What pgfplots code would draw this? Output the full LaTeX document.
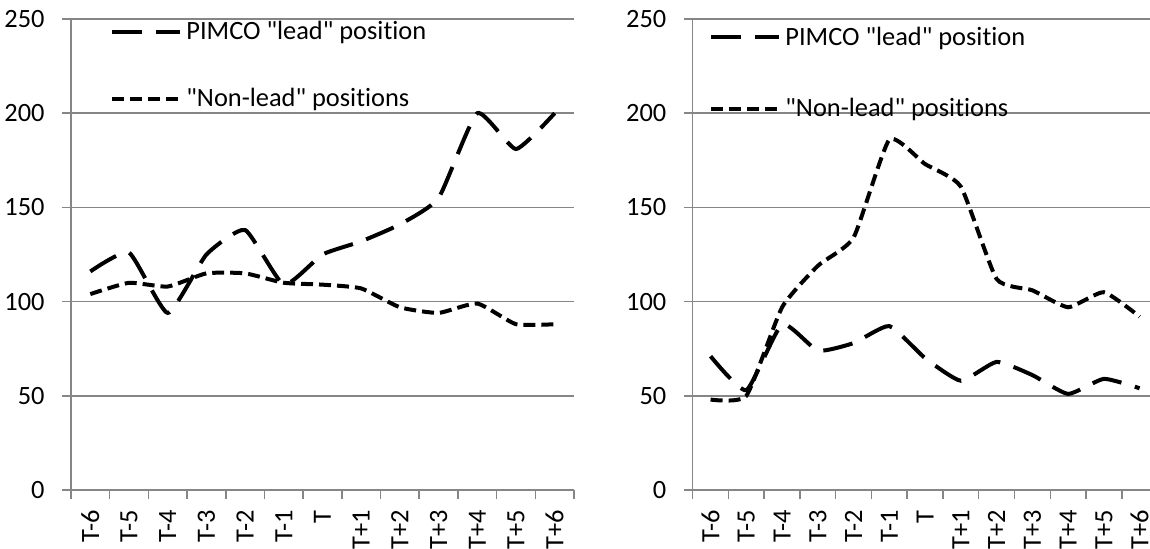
\documentclass[border=0pt]{standalone}
\usepackage{pgfplots}
\pgfplotsset{compat=1.18}
\usepackage{fontspec}
\setmainfont{Carlito}[Ligatures={TeXOff,NoCommon}]
\definecolor{axgray}{RGB}{134,134,134}
\pgfplotsset{
  panel/.style={
    scale only axis, height=235.5pt,
    ymin=0, ymax=250, ytick={0,50,100,150,200,250},
    xmin=-0.5, xmax=12.5,
    xtick={-0.5,0.5,1.5,2.5,3.5,4.5,5.5,6.5,7.5,8.5,9.5,10.5,11.5,12.5},
    xticklabels={T-6,T-5,T-4,T-3,T-2,T-1,T,T+1,T+2,T+3,T+4,T+5,T+6,{}},
    axis x line=bottom, axis y line=left,
    axis line style={-, draw=axgray, line width=0.75pt},
    ymajorgrids, grid style={draw=axgray, line width=0.75pt},
    tick align=outside, major tick length=4.5pt,
    tick style={draw=axgray, line width=0.75pt},
    every tick label/.append style={font=\fontsize{13.2}{15}\selectfont},
    /pgf/number format/assume math mode=true,
    yticklabel style={inner sep=0pt, xshift=-8.5pt},
    legend style={draw=none, fill=none, font=\fontsize{13.2}{15}\selectfont,
      anchor=north west, inner sep=0pt, row sep=19pt},
    legend cell align=left,
    legend image code/.code={\draw[##1] (0pt,0pt) -- (34pt,0pt);},
  },
  lead/.style={black, line width=2pt, dash pattern=on 15pt off 7pt, smooth, tension=0.3},
  nonlead/.style={black, line width=2pt, dash pattern=on 6pt off 3pt, smooth, tension=0.3},
}
\pgfplotstableread{
x lead nonlead
0 116 104
1 126 110
2 94 108
3 125 115
4 138 115
5 109 110
6 125 109
7 132 107
8 141 97
9 155 94
10 200 99
11 181 88
12 200 88
}\leftdata
\pgfplotstableread{
x lead nonlead
0 71 48
1 53 50
2 88 97
3 74 119
4 78 134
5 87 186
6 70 173
7 58 161
8 68 112
9 61 106
10 51 97
11 59 105
12 54 92
}\rightdata
\begin{document}
\begin{tikzpicture}
\useasboundingbox (-35.5pt,-29pt) rectangle (539.5pt,245pt);
\begin{axis}[panel, width=251.5pt, at={(0pt,0pt)}, anchor=south west,
  xticklabel style={xshift=9.675pt, yshift=-5.5pt, rotate=90, anchor=east, inner sep=0pt},
  legend style={at={(axis description cs:0.0775,1.005)}}]
\addplot[lead] table[x=x,y=lead]{\leftdata};
\addlegendentry{PIMCO "lead" position}
\addplot[nonlead] table[x=x,y=nonlead]{\leftdata};
\addlegendentry{"Non-lead" positions}
\end{axis}
\begin{axis}[panel, width=232.4pt, at={(310.85pt,0pt)}, anchor=south west,
  xticklabel style={xshift=8.94pt, yshift=-5.5pt, rotate=90, anchor=east, inner sep=0pt},
  legend style={at={(axis description cs:0.035,0.993)}, row sep=21pt}]
\addplot[lead] table[x=x,y=lead]{\rightdata};
\addlegendentry{PIMCO "lead" position}
\addplot[nonlead] table[x=x,y=nonlead]{\rightdata};
\addlegendentry{"Non-lead" positions}
\end{axis}
\end{tikzpicture}
\end{document}
